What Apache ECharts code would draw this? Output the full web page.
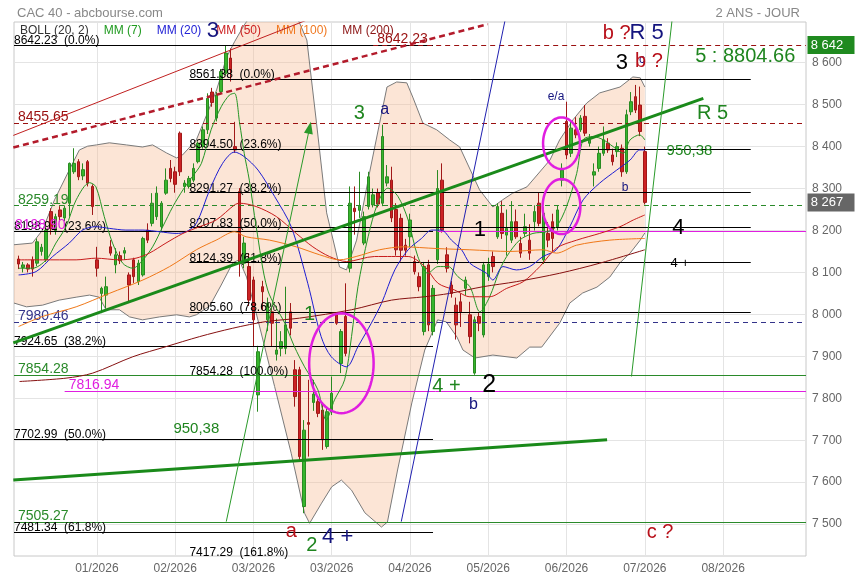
<!DOCTYPE html>
<html><head><meta charset="utf-8">
<script src="https://cdn.jsdelivr.net/npm/echarts@6/dist/echarts.min.js"></script>
<style>html,body{margin:0;padding:0;background:#fff}#c{width:855px;height:580px}</style>
</head><body><div id="c"></div>
<script>
// ---------- data ----------
const xTickPos = [17, 34, 51, 68, 85, 102, 119, 136, 153];
const xTickLabels = ['01/2026','02/2026','03/2026','03/2026','04/2026','05/2026','06/2026','07/2026','08/2026'];
const yTicks = [7500,7600,7700,7800,7900,8000,8100,8200,8300,8400,8500,8600];

// daily candles: [open, close, low, high]
const candles = [
[8132,8120,8108,8140],[8112,8118,8100,8125],[8118,8108,8100,8122],[8130,8108,8090,8138],[8122,8173,8115,8181],
[8150,8160,8140,8168],[8130,8201,8125,8217],[8245,8205,8190,8253],[8200,8233,8190,8240],[8249,8233,8225,8258],
[8230,8253,8222,8260],[8265,8360,8233,8362],[8340,8360,8335,8396],[8364,8328,8320,8370],[8330,8345,8320,8360],
[8364,8313,8305,8368],[8305,8257,8237,8310],[8130,8110,8090,8161],[8050,8062,8003,8066],[8046,8066,8015,8090],
[8161,8146,8140,8177],[8118,8142,8098,8158],[8140,8128,8120,8150],[8146,8152,8130,8160],[8094,8070,8027,8100],
[8130,8090,8075,8135],[8078,8122,8070,8130],[8094,8181,8090,8185],[8201,8177,8170,8217],[8217,8265,8210,8289],
[8233,8289,8225,8305],[8209,8265,8200,8270],[8289,8320,8285,8348],[8348,8324,8315,8368],[8340,8310,8290,8352],
[8432,8340,8330,8436],[8305,8313,8290,8320],[8305,8324,8300,8330],[8320,8348,8315,8360],[8364,8408,8360,8412],
[8400,8440,8395,8448],[8440,8515,8430,8527],[8530,8505,8495,8540],[8468,8523,8460,8530],[8531,8579,8525,8585],
[8575,8623,8570,8642],[8611,8583,8555,8634],[8400,8392,8385,8459],[8293,8122,8090,8301],[8122,8170,8110,8185],
[8114,8034,8020,8146],[8082,7987,7923,8090],[7808,7911,7768,7925],[8066,8054,8010,8080],[7987,8027,7960,8040],
[8006,7979,7923,8015],[7905,7915,7890,7990],[7919,7935,7900,7960],[7919,7975,7905,8066],[8006,7967,7950,8027],
[7868,7804,7780,7891],[7868,7661,7652,7875],[7542,7724,7526,7748],[7742,7738,7661,7844],[7790,7810,7770,7844],
[7792,7764,7755,7800],[7772,7701,7677,7790],[7685,7768,7680,7780],[7768,7812,7760,7852],[7999,7979,7975,8005],
[7883,7959,7860,7965],[7995,7907,7900,8074],[8110,8265,8100,8305],[8253,8245,8190,8305],[8248,8258,8230,8340],
[8170,8233,8165,8245],[8257,8328,8250,8340],[8261,8285,8255,8300],[8290,8263,8255,8300],[8265,8424,8258,8452],
[8313,8328,8305,8356],[8320,8230,8220,8352],[8250,8154,8140,8265],[8229,8153,8126,8240],[8165,8153,8140,8180],
[8185,8225,8160,8240],[8126,8102,8095,8140],[8090,8066,8055,8100],[7959,8114,7950,8125],[8118,7975,7960,8130],
[7959,8062,7950,8070],[8130,8300,8120,8344],[8320,8201,8195,8360],[8142,8110,8100,8160],[8070,8050,8040,8080],
[8022,7975,7940,8040],[8030,8006,7970,8050],[8062,8082,8045,8090],[7999,7947,7931,8030],[7860,7987,7856,7995],
[7995,7979,7960,8005],[7951,8118,7945,8125],[8090,8120,8080,8135],[8138,8114,8100,8150],[8185,8257,8180,8265],
[8241,8193,8180,8270],[8189,8205,8140,8250],[8177,8221,8170,8270],[8221,8185,8180,8250],[8169,8146,8135,8185],
[8193,8209,8185,8240],[8177,8146,8130,8215],[8221,8245,8200,8260],[8265,8217,8210,8290],[8130,8241,8120,8255],
[8193,8177,8160,8220],[8221,8181,8150,8240],[8209,8249,8200,8260],[8320,8344,8305,8360],[8460,8380,8370,8507],
[8384,8444,8375,8460],[8440,8428,8420,8470],[8440,8468,8435,8475],[8472,8432,8425,8499],[8408,8416,8400,8430],
[8332,8340,8305,8360],[8348,8384,8340,8400],[8384,8416,8378,8448],[8408,8392,8385,8420],[8380,8364,8355,8395],
[8388,8400,8375,8410],[8396,8340,8328,8405],[8340,8476,8335,8488],[8483,8507,8475,8530],[8519,8487,8480,8547],
[8499,8436,8425,8543],[8388,8267,8262,8400]
];

// Bollinger (20,2) bands: [index, value]
const bbUpper = [[-1,8166],[3,8170],[5.2,8201],[7.8,8273],[11,8344],[13.2,8392],[15,8401],[16.9,8404],[19.7,8409],[23.4,8404],[26.9,8399],[29.1,8404],[32.1,8385],[34.3,8373],[35.6,8380],[38.6,8416],[41,8480],[43,8535],[45.2,8614],[46.9,8650],[49,8690],[52.3,8740],[55.6,8770],[58.8,8750],[61,8695],[62.6,8654],[64.7,8456],[66.9,8242],[69.7,8113],[71.2,8106],[73.4,8177],[76.2,8337],[78.4,8456],[80,8542],[82.1,8554],[84.3,8552],[85.6,8518],[87.8,8456],[90.8,8440],[93.6,8416],[95.8,8399],[100.1,8297],[103,8256],[105.1,8273],[107.3,8289],[110.4,8304],[115.4,8368],[117.5,8416],[120.4,8464],[123.4,8504],[126.2,8528],[130.6,8542],[133.4,8566],[135,8564],[136,8542]];
const bbLower = [[-1,8027],[1.7,8018],[5.2,8022],[8.8,8034],[12.5,8041],[15.4,8046],[17.5,8041],[19,8011],[21.9,8011],[24.1,7994],[26.9,7987],[30.6,7994],[34.3,7999],[37.1,7994],[38.6,7999],[41.5,8020],[44,8070],[46.5,8123],[47.9,8130],[49.5,8089],[51.6,8003],[55.6,7828],[59.2,7669],[62.1,7526],[63.2,7502],[65.8,7550],[68,7589],[70.1,7605],[72.3,7581],[75.2,7527],[78.8,7493],[80.1,7505],[82.3,7629],[85.4,7789],[88.2,7915],[91,7987],[92.9,7982],[95.2,7946],[96.5,7915],[99.1,7896],[103,7903],[108.2,7896],[111,7922],[113.6,7922],[117.5,7979],[119.7,8027],[122.5,8051],[125.6,8065],[128.4,8089],[130.6,8123],[132.8,8146],[135,8177],[136,8194]];

// moving averages: [index, value]
const mm7 = [[0,8110],[3,8110],[6,8130],[8.1,8170],[10.3,8209],[12.5,8273],[15.4,8314],[16.8,8304],[18.6,8233],[20.4,8170],[22.6,8122],[24.8,8110],[27,8130],[29.1,8161],[31.3,8209],[33.5,8257],[35.7,8297],[37.5,8325],[39.7,8360],[41.8,8440],[44,8495],[45.8,8523],[46.9,8527],[48,8456],[49,8384],[50.1,8320],[51.6,8209],[54.1,8058],[57.8,7979],[59.9,7923],[62.1,7875],[65,7820],[66.8,7748],[68.6,7796],[70.8,7844],[72.3,7947],[73.7,8066],[75.9,8185],[78,8265],[80.2,8301],[82.4,8281],[84.6,8225],[86.7,8138],[88.9,8098],[91.1,8114],[93.3,8114],[95.4,8090],[98,8066],[100.2,8006],[102.3,8042],[104.5,8106],[106,8138],[108.8,8177],[111.7,8193],[114.7,8197],[116.8,8209],[119,8257],[121.2,8336],[122.6,8416],[124.8,8424],[127,8416],[129.1,8400],[131.3,8384],[132.8,8416],[134.9,8428],[136,8416]];
const mm20 = [[0,8094],[3.8,8102],[7.4,8138],[11,8170],[13.9,8201],[16.8,8209],[19.7,8205],[23.3,8201],[27,8201],[30.6,8197],[34.2,8193],[36.4,8197],[38.6,8217],[41.5,8297],[44.3,8360],[46.9,8387],[49,8376],[52,8344],[55.6,8281],[59.2,8209],[62.8,8074],[65.7,7947],[67.9,7899],[71.2,7875],[73.7,7923],[76.6,7979],[78.8,8026],[81.7,8106],[84.6,8154],[87.5,8181],[89.7,8201],[91.8,8201],[94,8177],[96.2,8154],[98,8122],[101.6,8098],[103,8082],[105.2,8114],[108.1,8106],[111,8114],[113.9,8138],[116.8,8154],[119.7,8209],[122.6,8273],[126.2,8313],[129.9,8344],[132.8,8368],[134.9,8392],[136,8392]];
const mm50 = [[0,8130],[5.2,8130],[12.5,8130],[16.8,8134],[21.9,8130],[25.5,8134],[28.4,8146],[32,8170],[35.7,8193],[39.3,8209],[42.9,8225],[46.9,8261],[48,8265],[51.6,8257],[56,8233],[60.3,8193],[63.9,8161],[67.5,8138],[71.2,8126],[77.3,8138],[81,8138],[84.6,8138],[88.2,8114],[91.1,8074],[94.7,8058],[98,8042],[102.3,8042],[106,8062],[109.6,8078],[113.2,8114],[116.8,8158],[121.2,8177],[126.2,8193],[130.6,8209],[133.5,8225],[136,8237]];
const mm100 = [[0,7971],[5.2,7995],[12.5,8018],[19.7,8050],[27,8082],[32.8,8114],[38.6,8154],[42.9,8177],[46.9,8197],[49.4,8185],[54.5,8177],[60.3,8161],[65.4,8142],[69.7,8130],[73.3,8138],[78.4,8154],[83.5,8161],[90.7,8157],[98,8154],[106.7,8150],[113.9,8154],[116.8,8146],[121.2,8165],[128.4,8177],[136,8181]];
const mm200 = [[0.2,7840],[10.3,7848],[16.1,7860],[24.8,7899],[32,7923],[39.3,7947],[46.5,7967],[53.8,7983],[61,7991],[72.3,8011],[81,8034],[88.2,8042],[93.6,8050],[100.9,8066],[108.1,8078],[117.5,8098],[126.2,8122],[136,8154]];

// Fibonacci retracements: [value, label]
const fibLeft = [[8642.23,'8642.23  (0.0%)'],[8198.91,'8198.91  (23.6%)'],[7924.65,'7924.65  (38.2%)'],[7702.99,'7702.99  (50.0%)'],[7481.34,'7481.34  (61.8%)']];
const fibLeftSpan = [-1, 90];
const fibRight = [[8561.38,'8561.38  (0.0%)'],[8394.50,'8394.50  (23.6%)'],[8291.27,'8291.27  (38.2%)'],[8207.83,'8207.83  (50.0%)'],[8124.39,'8124.39  (61.8%)'],[8005.60,'8005.60  (78.6%)'],[7854.28,'7854.28  (100.0%)']];
const fibRightSpan = [37.1, 159];

// horizontal levels: [value, fromIndex, toIndex, label, kind]
const levels = [
  [8642.23, 77, 171, '8642.23', 'redDash'],
  [8455.65, -1, 171, '8455.65', 'redDash'],
  [8259.19, -1, 171, '8259.19', 'greenDash'],
  [7980.46, -1, 171, '7980.46', 'navyDash'],
  [7854.28, -1, 171, '7854.28', 'green'],
  [7816.94, 10, 171, '7816.94', 'magenta'],
  [8198.90, 91, 171, '', 'magenta'],
  [7505.27, -1, 171, '7505.27', 'green']
];

// trend lines: [[x1,y1],[x2,y2], kind]
const trendLines = [
  [[-1.15,8426.6],[65,8712],'redThin'],
  [[-1.15,8397.7],[101.9,8692],'redDotted'],
  [[-1.15,7932],[148.7,8515],'greenThick'],
  [[-1.15,7605],[127.8,7701],'greenThick'],
  [[83.1,7506],[106,8720],'blueThin'],
  [[133.1,7852],[142,8710],'greenThin']
];
const arrowLine = [[45.1,7506],[63.2,8445]];

// ellipses: [centerIndex, centerValue, radiusIndex, radiusValue]
const ellipses = [[70.1,7883.5,7.0,119],[117.9,8408,4.0,61.5],[117.9,8257,4.1,65.6]];

// price tags: [value, text, kind]
const tags = [[8642.23,'8 642','green'],[8267,'8 267','gray']];

// wave annotations: [index, value, text, kind]
const notes = [
  [42.2,8676,'3','navyBig'],[74,8480,'3','greenBig'],[79.5,8487,'a','navyMid'],[116.7,8518,'e/a','navySmall'],
  [129.9,8670,'b ?','redBig'],[136.4,8670,'R 5','navyBig'],[131,8599,'3','blackBig'],[135.4,8607,'c','navySmall'],
  [136.9,8602,'b ?','redBig'],[157.8,8614,'5 : 8804.66','greenBig'],[150.7,8479,'R 5','greenBig'],
  [145.7,8390,'950,38','greenSmall'],[131.7,8301,'b','navySmall'],[100.2,8201,'1','blackBig'],[143.3,8205,'4','blackBig'],
  [143.6,8122,'4 +','blackSmall'],[63.2,7999,'1','greenBig'],[92.9,7828,'4 +','greenBig'],[102.2,7832,'2','blackHuge'],
  [98.8,7784,'b','navyMid'],[38.6,7728,'950,38','greenSmall'],[59.2,7482,'a','redBig'],[63.7,7450,'2','greenBig'],
  [69.3,7469,'4 +','navyBig'],[139.3,7481,'c ?','redBig'],[4.7,8213,'8198.90','magentaNote'],
  [37.1,7431,'7417.29  (161.8%)','fibNote']
];

// ---------- styles ----------
const FONT = "'Liberation Sans', Arial, sans-serif";
const C = {navy:'#14147e', red:'#b8101a', green:'#1f851f', black:'#000', magenta:'#e01ee0'};
const noteStyle = {
  navyBig:{color:C.navy,size:22}, navyMid:{color:C.navy,size:16}, navySmall:{color:C.navy,size:12},
  redBig:{color:C.red,size:20}, greenBig:{color:C.green,size:20}, greenSmall:{color:C.green,size:15},
  blackBig:{color:C.black,size:22}, blackHuge:{color:C.black,size:25}, blackSmall:{color:C.black,size:13},
  magentaNote:{color:C.magenta,size:14}, fibNote:{color:C.black,size:12,align:'left'}
};
const levelStyle = {
  redDash:{color:'#9a1010',type:[5,4],label:'#9a1010'},
  greenDash:{color:'#2a8a2a',type:[5,4],label:'#2a8a2a'},
  navyDash:{color:'#33338a',type:[5,4],label:'#33338a'},
  green:{color:'#2a8a2a',type:'solid',label:'#2a8a2a'},
  magenta:{color:'#e01ee0',type:'solid',label:'#e01ee0'}
};
const trendStyle = {
  redThin:{color:'#c02020',width:1,type:'solid'},
  redDotted:{color:'#b31b2b',width:2.5,type:[6,4]},
  greenThick:{color:'#1a8a1a',width:3,type:'solid'},
  blueThin:{color:'#2020b0',width:1,type:'solid'},
  greenThin:{color:'#2a9a2a',width:1,type:'solid'}
};
const fmtY = v => { const s = String(Math.round(v)); return s.slice(0, s.length - 3) + ' ' + s.slice(-3); };

const series = [];
// Bollinger fill
series.push({
  name:'BOLL (20, 2)', type:'custom', z:1, clip:true, silent:true, data:[[0,8000]],
  renderItem:(params, api) => {
    const pts = bbUpper.map(p => api.coord(p)).concat(bbLower.slice().reverse().map(p => api.coord(p)));
    return {type:'polygon', shape:{points:pts}, style:{fill:'rgba(247,186,148,0.38)', stroke:null}};
  }
});
[bbUpper, bbLower].forEach(b => series.push({type:'line', name:'bb', data:b, showSymbol:false, z:2, silent:true,
  lineStyle:{color:'#7a7a7a', width:1}}));

// horizontal levels
const fibMark = (list, span) => list.map(([v, lab]) => [
  {coord:[span[0], v], label:{formatter:lab}}, {coord:[span[1], v]}]);
series.push({type:'line', name:'fib', data:[], z:3, silent:true,
  markLine:{silent:true, symbol:['none','none'], animation:false,
    lineStyle:{color:'#000', width:1, type:'solid', opacity:1},
    label:{position:'insideStartTop', distance:[0,-2], color:'#000', fontSize:12, fontFamily:FONT},
    data: fibMark(fibLeft, fibLeftSpan).concat(fibMark(fibRight, fibRightSpan))}});
series.push({type:'line', name:'levels', data:[], z:2, silent:true,
  markLine:{silent:true, symbol:['none','none'], animation:false,
    data: levels.map(([v, a, b, lab, kind]) => {
      const s = levelStyle[kind];
      return [{coord:[a, v], lineStyle:{color:s.color, type:s.type, width:1, opacity:1},
        label:{show: lab !== '', formatter:lab, position:'insideStartTop', distance:[4,-1], color:s.label, fontSize:14, fontFamily:FONT}},
        {coord:[b, v]}];
    })}});

// candles
series.push({type:'candlestick', name:'CAC 40', z:4, barWidth:3,
  data: candles.map((c, i) => [i, c[0], c[1], c[2], c[3]]),
  encode:{x:0, y:[1,2,3,4]},
  itemStyle:{color:'#36b52c', color0:'#cc2224', borderColor:'#2a8a22', borderColor0:'#a01818', borderWidth:1}});

// moving averages
[['MM (7)', mm7, '#259525'], ['MM (20)', mm20, '#1e1ed2'], ['MM (50)', mm50, '#c81c1c'],
 ['MM (100)', mm100, '#f07818'], ['MM (200)', mm200, '#861010']].forEach(([n, d, col]) =>
  series.push({type:'line', name:n, data:d, smooth:0.3, showSymbol:false, z:5, silent:true, color:col,
    lineStyle:{color:col, width:1}}));

// trend lines
trendLines.forEach(([p1, p2, kind]) => series.push({type:'line', name:'trend', data:[p1, p2], showSymbol:false,
  z:6, silent:true, clip:true, lineStyle:trendStyle[kind]}));
series.push({type:'line', name:'arrow', z:6, silent:true, clip:true, symbol:'none',
  data:[arrowLine[0], {value:arrowLine[1], symbol:'triangle', symbolSize:[9,12], symbolRotate:-12,
    itemStyle:{color:'#2a9a2a'}}],
  lineStyle:{color:'#2a9a2a', width:1}});

// ellipses
series.push({type:'custom', name:'ellipse', z:7, silent:true, data:ellipses,
  renderItem:(params, api) => {
    const c = api.coord([api.value(0), api.value(1)]);
    const sz = api.size([api.value(2), api.value(3)]);
    const pts = [];
    for (let k = 0; k <= 72; k++) { const t = k / 72 * Math.PI * 2; pts.push([c[0] + sz[0] * Math.cos(t), c[1] + sz[1] * Math.sin(t)]); }
    return {type:'polyline', shape:{points:pts}, style:{stroke:'#e01ee0', lineWidth:2.5, fill:null}};
  }});

// notes
series.push({type:'scatter', name:'notes', z:8, silent:true, symbolSize:0, itemStyle:{opacity:1},
  data: notes.map(([x, y, t, kind]) => { const s = noteStyle[kind];
    return {value:[x, y], label:{show:true, position:'inside', formatter:t, color:s.color, fontSize:s.size,
      fontFamily:FONT, align:s.align || 'center', opacity:1}}; })});

// price tags
series.push({type:'line', name:'tags', data:[], z:9, silent:true,
  markPoint:{silent:true, animation:false,
    data: tags.map(([v, t, kind]) => ({coord:[171, v], symbol:'rect', symbolSize:[47,18], symbolOffset:[25,0],
      itemStyle:{color: kind === 'green' ? '#1f8a1f' : '#666666', opacity:1},
      label:{show:true, formatter:t, color:'#fff', fontSize:13, fontFamily:FONT, offset:[-4,0]}}))}});

const option = {
  animation:false,
  backgroundColor:'#fff',
  title:[{text:'CAC 40 - abcbourse.com', left:12, top:2, textStyle:{color:'#888', fontSize:13, fontWeight:'normal', fontFamily:FONT}},
         {text:'2 ANS - JOUR', right:50, top:2, textStyle:{color:'#888', fontSize:13, fontWeight:'normal', fontFamily:FONT}}],
  legend:{left:10, top:20, itemWidth:0, itemHeight:0, itemGap:9, selectedMode:false,
    textStyle:{fontSize:12, fontFamily:FONT},
    data:[{name:'BOLL (20, 2)', textStyle:{color:'#333'}}, {name:'MM (7)', textStyle:{color:'#1f9a1f'}},
      {name:'MM (20)', textStyle:{color:'#2323d6'}}, {name:'MM (50)', textStyle:{color:'#cc2020'}},
      {name:'MM (100)', textStyle:{color:'#f07820'}}, {name:'MM (200)', textStyle:{color:'#8b1414'}}]},
  grid:{left:14, right:49, top:22, bottom:24, show:true, borderColor:'#c8c8c8', borderWidth:1, backgroundColor:'transparent'},
  xAxis:{type:'value', min:-1, max:171,
    axisLine:{show:false}, axisTick:{show:false, customValues:xTickPos},
    splitLine:{show:true, lineStyle:{color:'#e4e4e4'}},
    axisLabel:{customValues:xTickPos, margin:7, color:'#666', fontSize:12, fontFamily:FONT,
      formatter:v => xTickLabels[xTickPos.indexOf(Math.round(v))] || ''}},
  yAxis:{type:'value', position:'right', min:7424, max:8697, scale:true,
    axisLine:{show:false}, axisTick:{show:false, customValues:yTicks},
    splitLine:{show:true, lineStyle:{color:'#e4e4e4'}},
    axisLabel:{customValues:yTicks, margin:6, color:'#666', fontSize:12, fontFamily:FONT, formatter:fmtY}},
  series
};
const chart = echarts.init(document.getElementById('c'));
chart.setOption(option);
</script></body></html>
